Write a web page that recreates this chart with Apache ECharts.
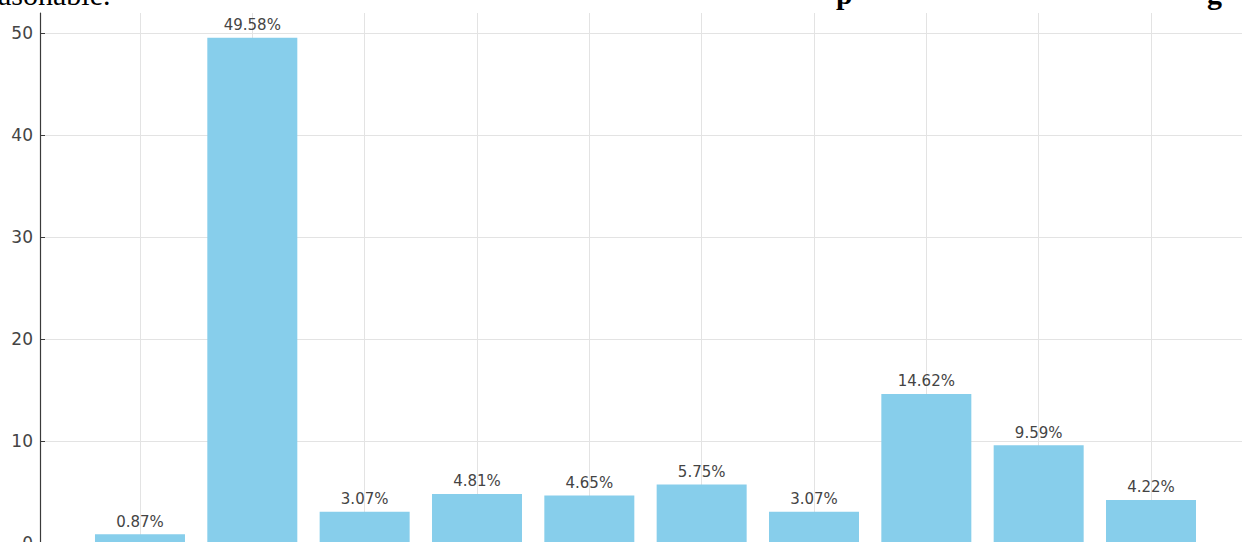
<!DOCTYPE html>
<html>
<head>
<meta charset="utf-8">
<script src="https://cdn.jsdelivr.net/npm/echarts@6/dist/echarts.min.js"></script>
<style>
  html, body { margin: 0; padding: 0; background: #fff; }
  #chart { width: 1242px; height: 542px; }
</style>
</head>
<body>
<div id="chart"></div>
<script>
(function() {
  // data
  var positions = [0, 1, 2, 3, 4, 5, 6, 7, 8, 9];
  var values = [0.87, 49.58, 3.07, 4.81, 4.65, 5.75, 3.07, 14.62, 9.59, 4.22];
  var yTicks = [0, 10, 20, 30, 40, 50];

  var barColor = '#87ceeb';
  var gridColor = '#e3e3e3';
  var axisColor = '#3a3a3a';
  var textColor = '#444';

  var chart = echarts.init(document.getElementById('chart'), null, { renderer: 'svg' });

  chart.setOption({
    animation: false,
    backgroundColor: '#fff',
    grid: { left: 40, right: 0, top: 13, bottom: -1, outerBoundsMode: 'none', containLabel: false },
    xAxis: {
      type: 'value',
      min: -0.89,
      max: 9.81,
      axisLine: { show: true, onZero: false, lineStyle: { color: axisColor, width: 1 } },
      axisTick: { show: true, inside: true, length: 7, customValues: positions, lineStyle: { color: axisColor } },
      axisLabel: { show: false },
      splitLine: { show: true, customValues: positions, lineStyle: { color: gridColor, width: 1 } }
    },
    yAxis: {
      type: 'value',
      min: 0,
      max: 52,
      axisLine: { show: true, onZero: false, lineStyle: { color: axisColor, width: 1.2 } },
      axisTick: { show: true, inside: true, length: 5, customValues: yTicks, lineStyle: { color: axisColor } },
      axisLabel: {
        customValues: yTicks,
        color: textColor,
        fontSize: 17,
        fontFamily: 'DejaVu Sans',
        margin: 7
      },
      splitLine: { show: true, customValues: yTicks, lineStyle: { color: gridColor, width: 1 } }
    },
    series: [{
      type: 'bar',
      data: positions.map(function(p, i) { return [p, values[i]]; }),
      barWidth: 90,
      itemStyle: { color: barColor },
      label: {
        show: true,
        position: 'top',
        distance: 5,
        color: textColor,
        fontSize: 15,
        fontFamily: 'DejaVu Sans',
        formatter: function(p) { return p.value[1].toFixed(2) + '%'; }
      }
    }],
    graphic: [
      {
        type: 'text', left: -2, top: -21,
        style: { text: 'asonable.', font: '30px "Liberation Serif"', fill: '#000' }
      },
      {
        type: 'text', left: 836, top: -22,
        style: { text: 'p', font: 'bold 30px "Liberation Serif"', fill: '#000' }
      },
      {
        type: 'text', left: 1207, top: -22,
        style: { text: 'g', font: 'bold 30px "Liberation Serif"', fill: '#000' }
      }
    ]
  });
  window.addEventListener('resize', function() { chart.resize(); });
})();
</script>
</body>
</html>
